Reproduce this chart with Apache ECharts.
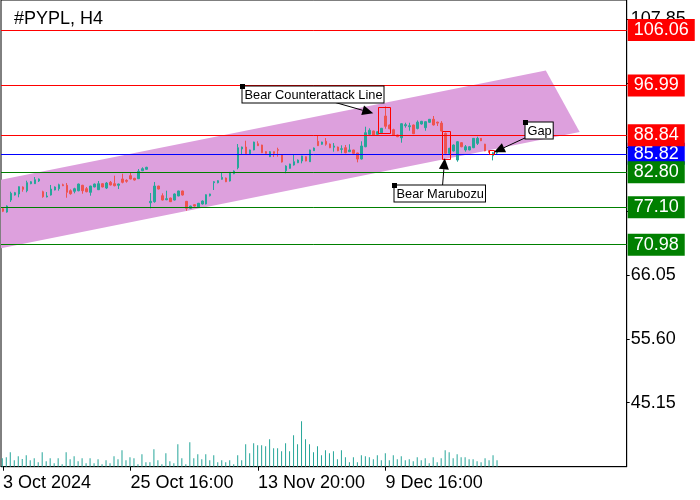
<!DOCTYPE html>
<html><head><meta charset="utf-8">
<script src="https://cdn.jsdelivr.net/npm/echarts@6/dist/echarts.min.js"></script>
<style>html,body{margin:0;padding:0;background:#fff}#c{width:700px;height:500px}</style>
</head><body><div id="c"></div>
<script>
// ---- data (H4 bars, index 0 = first bar) ----
const opens = [76.85,76.31,78.27,79.09,79.26,80.40,79.79,80.94,80.94,81.38,79.63,78.77,79.09,79.91,80.12,80.77,80.68,79.79,79.70,79.79,80.68,80.12,79.53,80.40,79.96,80.94,80.23,81.17,80.94,80.68,81.71,81.49,82.25,81.82,81.76,83.06,83.29,77.83,78.00,80.56,78.98,78.32,78.60,78.27,78.93,79.75,78.06,76.92,77.51,77.13,77.62,77.62,78.98,81.10,81.10,81.66,81.87,81.38,82.57,83.55,86.61,86.93,85.84,86.45,87.47,87.26,86.17,85.35,86.17,86.50,85.63,83.06,83.45,83.99,84.37,84.65,85.35,84.53,86.33,87.87,87.38,87.87,87.42,86.90,86.93,86.55,86.82,86.17,86.45,85.96,84.97,86.98,89.01,89.55,89.01,89.27,92.00,90.53,89.76,88.90,88.45,90.41,90.25,90.53,89.97,90.69,90.09,90.97,91.46,91.00,90.84,89.17,85.90,86.28,84.81,87.64,86.45,86.45,86.82,87.53,88.35,87.40,86.30,85.50,85.95];
const closes = [76.43,77.29,79.37,79.47,80.45,80.02,81.10,81.26,81.59,81.71,78.81,78.93,80.07,80.40,80.77,80.61,79.53,79.30,80.12,80.89,79.79,79.63,80.56,80.89,80.94,80.40,81.05,80.73,80.61,80.89,81.17,81.33,81.71,81.54,82.96,83.39,83.62,78.06,80.56,80.07,78.27,78.49,78.00,79.26,79.75,79.09,76.92,77.29,77.29,77.74,78.11,79.14,79.26,81.26,81.43,81.98,81.26,82.80,83.01,86.82,86.93,85.84,86.45,87.75,87.15,86.00,85.90,86.17,85.90,86.40,84.48,83.83,84.16,84.53,84.81,85.47,84.65,86.45,86.77,87.15,87.75,87.38,86.82,87.10,86.33,86.65,86.00,86.45,85.90,84.97,87.10,89.27,89.66,88.85,89.43,89.99,90.32,89.92,88.90,88.62,90.74,90.58,90.41,89.11,91.00,91.13,91.07,91.46,90.53,90.84,89.55,85.90,86.72,87.26,87.80,86.98,86.98,86.98,88.35,88.35,87.96,86.30,86.10,86.00,86.05];
const lows = [76.30,76.20,77.96,79.00,78.72,79.63,79.53,80.85,80.90,81.22,78.65,78.70,79.00,79.85,79.79,80.55,78.65,79.14,79.37,79.70,79.30,79.53,78.98,80.35,79.90,80.35,80.07,80.65,80.50,80.07,81.00,81.10,81.65,81.45,81.70,83.00,83.20,76.92,77.83,80.00,78.20,78.25,77.95,78.20,78.90,79.00,76.53,76.85,77.20,77.05,77.55,77.55,78.85,79.91,81.00,81.60,81.20,81.30,82.50,83.29,85.79,85.80,85.80,86.40,87.10,85.95,85.85,85.30,85.30,85.35,84.40,82.64,83.40,83.90,84.30,84.27,84.60,84.50,86.30,87.10,87.30,87.15,86.75,86.17,86.25,85.90,85.90,86.10,85.85,84.43,84.90,86.90,88.95,88.80,88.95,89.20,89.92,89.85,88.85,88.55,87.64,90.09,89.60,89.05,89.81,90.60,89.60,90.90,90.45,90.37,89.50,85.75,85.80,86.20,84.53,86.90,86.17,86.40,86.75,87.26,87.90,86.25,86.00,84.75,85.80];
const highs = [77.00,77.40,79.63,79.60,80.50,80.50,81.43,81.35,82.03,81.80,79.79,79.58,80.73,80.50,80.94,80.94,81.05,80.02,80.28,80.95,80.75,80.40,80.60,80.95,81.38,81.00,81.22,81.38,82.25,80.95,82.57,81.66,82.74,81.90,83.34,83.62,83.70,79.42,81.22,80.60,79.37,79.79,78.65,79.35,79.80,79.80,78.10,77.35,77.60,77.80,78.20,79.20,79.30,81.35,81.50,82.80,81.95,82.85,83.10,87.42,87.00,87.96,86.50,87.80,87.87,87.30,86.25,86.25,86.20,86.82,85.70,83.94,84.20,85.63,84.90,85.50,85.40,86.50,86.85,88.85,87.80,88.40,87.50,87.58,87.00,87.21,87.26,87.38,86.50,86.00,87.87,90.25,89.99,89.60,89.50,90.05,93.58,90.60,89.92,88.95,90.80,90.90,90.90,90.60,91.27,91.20,91.10,91.50,92.00,91.07,91.17,89.30,86.80,87.35,87.90,87.70,87.26,87.10,88.40,88.62,88.40,87.45,86.40,86.10,86.20];
const volumes = [25,28,43,19,31,23,34,19,25,13,43,16,25,10,25,7,43,22,31,16,25,10,25,10,22,7,19,10,31,22,49,19,28,25,7,37,13,13,52,19,7,40,16,10,67,25,7,73,25,37,22,37,19,34,13,19,13,19,7,34,19,67,40,70,64,64,61,82,55,55,46,70,46,94,67,136,82,67,43,61,34,49,40,46,22,49,28,13,28,13,34,31,28,22,34,19,40,19,34,22,31,19,22,16,28,19,25,10,28,13,25,49,43,25,37,28,28,22,22,16,13,25,19,34,19];
const barSlots = 157;                         // visible bar slots on the time axis
const tickIdx = [0, 32, 64, 96];
const tickText = ['3 Oct 2024', '25 Oct 16:00', '13 Nov 20:00', '9 Dec 16:00'];
const levelVals = [85.82, 106.06, 96.99, 88.84, 82.80, 77.10, 70.98];
const levelText = ['85.82', '106.06', '96.99', '88.84', '82.80', '77.10', '70.98'];
// channel corners: [bar index, price]
const channelK = [-2, 136.2, 144.7, -2];
const channelP = [81.38, 99.43, 89.37, 70.20];
// pattern boxes: [bar1, price1, bar2, price2]
const patternBoxes = [[94.0, 93.42, 97.1, 89.11], [110.05, 89.55, 112.1, 85.05], [122.0, 86.45, 123.2, 85.84]];
// callouts: anchor [bar, price] + text
const calloutK = [60.0, 98.03, 131.05];
const calloutP = [96.90, 80.69, 91.10];
const calloutText = ['Bear Counterattack Line', 'Bear Marubozu', 'Gap'];
// arrows: [fromBar, fromPrice, toBar, toPrice]
const arrows = [[83.2, 94.24, 92.9, 92.44], [110.3, 80.73, 110.85, 85.09], [131.1, 88.45, 123.2, 86.07]];

// ---- styles ----
const UP = '#26a69a', DOWN = '#ef5350';
const levelColors = ['#0000ff', '#ff0000', '#ff0000', '#ff0000', '#008000', '#008000', '#008000'];
const FONT = 'Liberation Sans';

const cats = [];
for (let i = 0; i < barSlots; i++) cats.push(String(i));
const ohlc = opens.map((o, i) => [o, closes[i], lows[i], highs[i]]);

const chart = echarts.init(document.getElementById('c'), null, {renderer: 'canvas'});
const G = {left: 0.3, right: 73.3};
chart.setOption({
  animation: false,
  backgroundColor: '#fff',
  title: {text: '#PYPL, H4', left: 9, top: 5, textStyle: {fontFamily: FONT, fontSize: 18, fontWeight: 'normal', color: '#000'}},
  grid: [
    {left: G.left, right: G.right, top: 0, bottom: 33.3, show: true, borderColor: '#000', borderWidth: 1, backgroundColor: '#fff'},
    {left: G.left, right: G.right, bottom: 33.3, height: 100}
  ],
  xAxis: [
    {type: 'category', gridIndex: 0, data: cats, boundaryGap: true,
     axisLine: {show: true, onZero: false, lineStyle: {color: '#000', width: 1}},
     axisTick: {show: true, length: 4, alignWithLabel: true, interval: (i) => tickIdx.includes(i), lineStyle: {color: '#000'}},
     axisLabel: {interval: (i) => tickIdx.includes(i), formatter: (v, i) => tickText[tickIdx.indexOf(i)] || '',
                 align: 'left', margin: 7, fontFamily: FONT, fontSize: 18, color: '#000'},
     splitLine: {show: false}},
    {type: 'category', gridIndex: 1, data: cats, boundaryGap: true, show: false, axisLine: {onZero: false}},
    {type: 'value', gridIndex: 0, min: -0.5, max: barSlots - 0.5, show: false, axisLine: {onZero: false}}
  ],
  yAxis: [
    {type: 'value', gridIndex: 0, position: 'right', min: 34.70, max: 110.954, interval: 10.45,
     axisLine: {show: true, onZero: false, lineStyle: {color: '#000', width: 1}},
     axisTick: {show: true, length: 3, lineStyle: {color: '#000'}},
     axisLabel: {showMinLabel: false, showMaxLabel: false, margin: 4, padding: [8, 0, 0, 0], formatter: (v) => v.toFixed(2),
                 fontFamily: FONT, fontSize: 18, color: '#000'},
     splitLine: {show: false}},
    {type: 'value', gridIndex: 1, min: 0, max: 300, show: false, axisLine: {onZero: false}}
  ],
  series: [
    {type: 'custom', name: 'channel', xAxisIndex: 2, yAxisIndex: 0, clip: true, z: 1, silent: true,
     data: [[channelK[1], channelP[1]]],
     renderItem: (params, api) => ({
       type: 'polygon',
       shape: {points: channelK.map((k, i) => api.coord([k, channelP[i]]))},
       style: {fill: '#dda0dd'}
     })},
    {type: 'bar', name: 'volume', xAxisIndex: 1, yAxisIndex: 1, data: volumes, barWidth: 1,
     itemStyle: {color: UP}, silent: true, z: 2},
    {type: 'candlestick', name: 'PYPL', xAxisIndex: 0, yAxisIndex: 0, data: ohlc, barWidth: 2, z: 3,
     itemStyle: {color: UP, color0: DOWN, borderColor: UP, borderColor0: DOWN, borderWidth: 1},
     markLine: {
       silent: true, symbol: ['none', 'none'], animation: false,
       data: levelVals.map((v, i) => ({
         yAxis: v, name: levelText[i],
         lineStyle: {color: levelColors[i], width: 1, type: 'solid'},
         label: {show: true, position: 'end', distance: 1, formatter: '{b}', color: '#fff',
                 backgroundColor: levelColors[i], padding: [1, 6, 1, 6], lineHeight: 20,
                 fontFamily: FONT, fontSize: 18}
       }))
     }},
    {type: 'custom', name: 'patterns', xAxisIndex: 2, yAxisIndex: 0, clip: true, z: 10, silent: true,
     data: patternBoxes, encode: {x: [0, 2], y: [1, 3]},
     renderItem: (params, api) => {
       const a = api.coord([api.value(0), api.value(1)]);
       const b = api.coord([api.value(2), api.value(3)]);
       const x = Math.round(Math.min(a[0], b[0])) + 0.5, y = Math.round(Math.min(a[1], b[1])) + 0.5;
       return {type: 'rect', shape: {x: x, y: y, width: Math.round(Math.abs(b[0] - a[0])), height: Math.round(Math.abs(b[1] - a[1]))},
               style: {fill: null, stroke: '#ff0000', lineWidth: 1}};
     }},
    {type: 'custom', name: 'arrows', xAxisIndex: 2, yAxisIndex: 0, clip: false, z: 11, silent: true,
     data: arrows, encode: {x: [0, 2], y: [1, 3]},
     renderItem: (params, api) => {
       const a = api.coord([api.value(0), api.value(1)]);
       const b = api.coord([api.value(2), api.value(3)]);
       const dx = b[0] - a[0], dy = b[1] - a[1], len = Math.hypot(dx, dy);
       const ux = dx / len, uy = dy / len, L = 11, W = 5;
       const bx = b[0] - ux * L, by = b[1] - uy * L;
       return {type: 'group', children: [
         {type: 'line', shape: {x1: a[0], y1: a[1], x2: bx, y2: by}, style: {stroke: '#000', lineWidth: 1}},
         {type: 'polygon', shape: {points: [b, [bx - uy * W, by + ux * W], [bx + uy * W, by - ux * W]]}, style: {fill: '#000'}}
       ]};
     }},
    {type: 'custom', name: 'callouts', xAxisIndex: 2, yAxisIndex: 0, clip: false, z: 12, silent: true,
     data: calloutK.map((k, i) => [k, calloutP[i], i]),
     renderItem: (params, api) => {
       const p = api.coord([api.value(0), api.value(1)]);
       const x = Math.round(p[0]) + 0.5, y = Math.round(p[1]) + 0.5;
       return {type: 'group', children: [
         {type: 'text', x: x, y: y, style: {text: calloutText[api.value(2)], font: '12.8px "Liberation Sans"', fill: '#000',
           backgroundColor: '#fff', borderColor: '#000', borderWidth: 1, padding: [1, 1, 0, 2], lineHeight: 15,
           align: 'left', verticalAlign: 'top'}},
         {type: 'rect', shape: {x: x - 2.5, y: y - 2.5, width: 5, height: 5}, style: {fill: '#000'}}
       ]};
     }}
  ]
});
</script>
</body></html>
